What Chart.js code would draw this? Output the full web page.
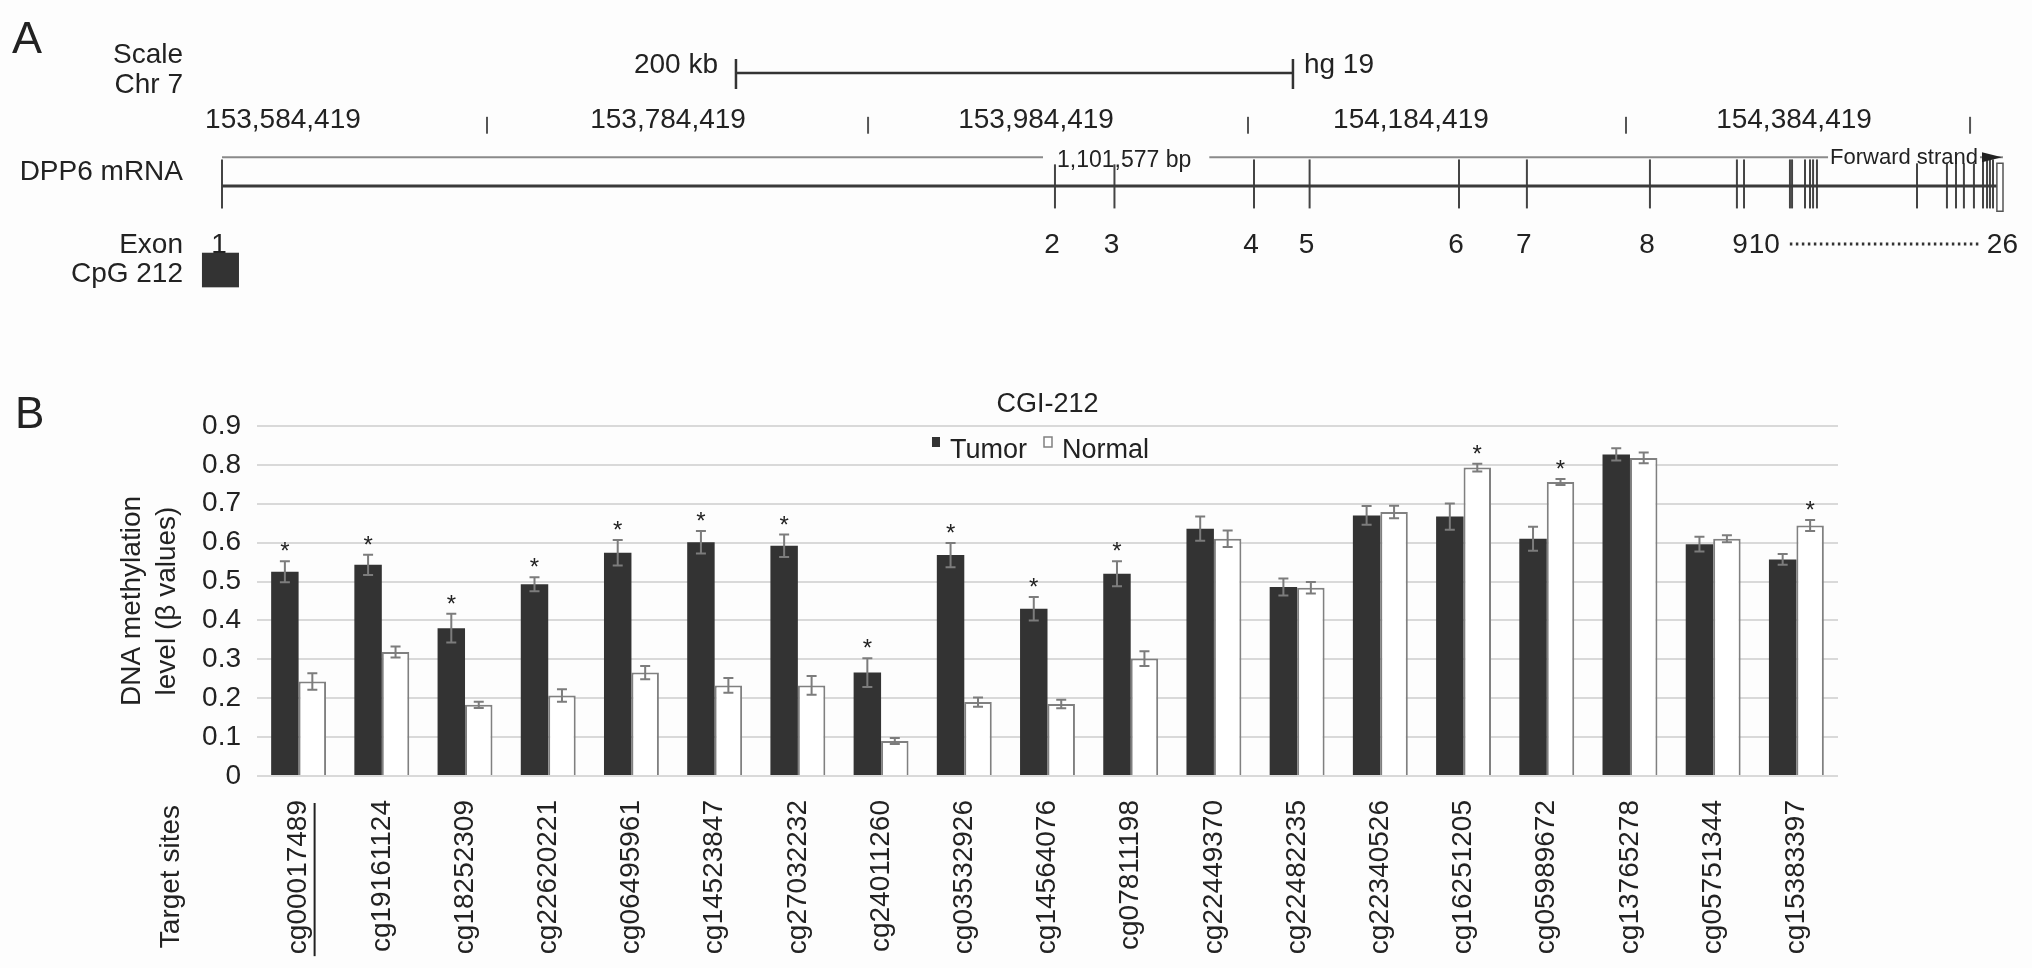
<!DOCTYPE html>
<html>
<head>
<meta charset="utf-8">
<title>DPP6 CGI-212 methylation</title>
<script src="https://cdn.jsdelivr.net/npm/chart.js@4.4.1/dist/chart.umd.min.js"></script>
<style>
  html, body { margin: 0; padding: 0; background: #fdfdfd; }
  #page { position: relative; width: 2032px; height: 968px; overflow: hidden; }
  #trackCanvas { position: absolute; left: 0; top: 0; }
  #barCanvas { position: absolute; left: 0; top: 340px; }
</style>
</head>
<body>
<div id="page">
  <canvas id="trackCanvas" width="2032" height="340"></canvas>
  <canvas id="barCanvas" width="2032" height="628"></canvas>
</div>
<script>
// Panel A - DPP6 gene model, positions in kb from the start of exon 1
var geneLengthBp = 1101577;
var exonNumbers = ['1', '2', '3', '4', '5', '6', '7', '8', '9', '10', '11', '12', '13',
    '14', '15', '16', '17', '18', '19', '20', '21', '22', '23', '24', '25', '26'];
var exonStartKb = [0, 515.2, 552.0, 638.3, 672.7, 765.1, 807.1, 883.2, 937.0, 941.4,
    969.8, 971.1, 979.1, 982.2, 984.1, 986.5, 1048.4, 1066.9, 1072.5, 1077.4,
    1083.6, 1089.2, 1091.7, 1093.5, 1095.4, 1097.8];
var lastExonEndKb = 1101.577;
var cpgIslandKb = [-12.4, 10.5];
var rulerLabels = ['153,584,419', '153,784,419', '153,984,419', '154,184,419', '154,384,419'];
var rulerLabelKb = [37.7, 275.9, 503.5, 735.4, 972.3];
var rulerTickKb = [163.9, 399.6, 634.6, 868.4, 1081.2];
var scaleBarKb = [317.9, 662.4];
var lengthLabelKb = 558;

// Panel B - CGI-212 methylation (beta values)
var targetSites = ['cg00017489', 'cg19161124', 'cg18252309', 'cg22620221', 'cg06495961',
    'cg14523847', 'cg27032232', 'cg24011260', 'cg03532926', 'cg14564076', 'cg07811198',
    'cg22449370', 'cg22482235', 'cg22340526', 'cg16251205', 'cg05989672', 'cg13765278',
    'cg05751344', 'cg15383397'];
var tumorValues = [0.525, 0.543, 0.380, 0.493, 0.574, 0.601, 0.592, 0.266, 0.568, 0.430,
    0.520, 0.636, 0.486, 0.670, 0.667, 0.610, 0.827, 0.596, 0.557];
var tumorErrors = [0.027, 0.026, 0.037, 0.018, 0.033, 0.029, 0.029, 0.037, 0.031, 0.030,
    0.032, 0.031, 0.022, 0.024, 0.034, 0.031, 0.016, 0.019, 0.014];
var normalValues = [0.243, 0.319, 0.183, 0.207, 0.266, 0.233, 0.233, 0.090, 0.190, 0.185,
    0.302, 0.610, 0.484, 0.679, 0.793, 0.756, 0.818, 0.610, 0.644];
var normalErrors = [0.021, 0.014, 0.008, 0.016, 0.017, 0.019, 0.024, 0.008, 0.012, 0.011,
    0.019, 0.021, 0.015, 0.016, 0.010, 0.008, 0.014, 0.009, 0.014];
var tumorStars = [1, 1, 1, 1, 1, 1, 1, 1, 1, 1, 1, 0, 0, 0, 0, 0, 0, 0, 0];
var normalStars = [0, 0, 0, 0, 0, 0, 0, 0, 0, 0, 0, 0, 0, 0, 1, 1, 0, 0, 1];
var yTicks = [0, 0.1, 0.2, 0.3, 0.4, 0.5, 0.6, 0.7, 0.8, 0.9];

var FONT = '"Liberation Sans", Arial, Helvetica, sans-serif';
var INK = '#222222';
var PAPER = '#fdfdfd';

// draw text whose cap/digit height is centred on yMid
function label(ctx, str, x, yMid, size, align) {
    ctx.font = size + 'px ' + FONT;
    ctx.textAlign = align || 'left';
    ctx.textBaseline = 'alphabetic';
    ctx.fillStyle = INK;
    ctx.fillText(str, x, yMid + size * 0.36);
    return ctx.measureText(str).width;
}

// ---------------- Panel A ----------------
var geneKb = geneLengthBp / 1000;
var rowY = { scaleBar: 55, ruler: 117, strand: 155, gene: 189, exonNum: 243, cpgTop: 268, cpgBottom: 309 };
var labelRight = 183;

var trackDecor = {
    id: 'trackDecor',
    afterDraw: function (chart) {
        var ctx = chart.ctx;
        var xs = chart.scales.x, ys = chart.scales.y;
        var px = function (kb) { return xs.getPixelForValue(kb); };
        var py = function (v) { return ys.getPixelForValue(v); };
        ctx.save();

        label(ctx, 'A', 12, 37, 45, 'left');
        label(ctx, 'Scale', labelRight, 53, 28, 'right');
        label(ctx, 'Chr 7', labelRight, 83, 28, 'right');
        label(ctx, 'DPP6 mRNA', labelRight, 170, 28, 'right');
        label(ctx, 'Exon', labelRight, rowY.exonNum, 28, 'right');
        label(ctx, 'CpG 212', labelRight, 272, 28, 'right');

        // scale bar
        var s0 = px(scaleBarKb[0]), s1 = px(scaleBarKb[1]), sy = py(rowY.scaleBar);
        ctx.strokeStyle = '#333';
        ctx.lineWidth = 2.5;
        ctx.beginPath();
        ctx.moveTo(s0, sy); ctx.lineTo(s1, sy);
        ctx.moveTo(s0, sy - 14); ctx.lineTo(s0, sy + 16);
        ctx.moveTo(s1, sy - 14); ctx.lineTo(s1, sy + 16);
        ctx.stroke();
        label(ctx, '200 kb', s0 - 18, 63, 28, 'right');
        label(ctx, 'hg 19', s1 + 11, 63, 28, 'left');

        // chromosome ruler
        rulerLabels.forEach(function (t, i) {
            label(ctx, t, px(rulerLabelKb[i]), rowY.ruler + 1, 28, 'center');
        });
        ctx.strokeStyle = '#555';
        ctx.lineWidth = 2;
        rulerTickKb.forEach(function (kb) {
            ctx.beginPath();
            ctx.moveTo(px(kb), py(rowY.ruler - 10));
            ctx.lineTo(px(kb), py(rowY.ruler + 10));
            ctx.stroke();
        });

        // length label and strand label sitting on the thin line
        var ly = py(rowY.strand);
        ctx.font = '23px ' + FONT;
        var lenText = geneLengthBp.toLocaleString('en-US') + ' bp';
        var lw = ctx.measureText(lenText).width;
        var lx = px(lengthLabelKb);
        ctx.fillStyle = PAPER;
        ctx.fillRect(lx - lw / 2 - 14, ly - 10, lw + 32, 17);
        label(ctx, lenText, lx, ly + 1, 23, 'center');

        var tip = px(geneKb) - 1;
        ctx.font = '22px ' + FONT;
        var fw = ctx.measureText('Forward strand').width;
        ctx.fillStyle = PAPER;
        ctx.fillRect(tip - 24 - fw - 2, ly - 10, fw + 4, 16);
        label(ctx, 'Forward strand', tip - 24, ly - 1, 22, 'right');
        ctx.fillStyle = '#222';
        ctx.beginPath();
        ctx.moveTo(tip, ly);
        ctx.lineTo(tip - 20, ly - 5);
        ctx.lineTo(tip - 20, ly + 5);
        ctx.closePath();
        ctx.fill();

        // last exon drawn as a box
        var b0 = px(exonStartKb[exonStartKb.length - 1]), b1 = px(lastExonEndKb);
        ctx.fillStyle = '#ffffff';
        ctx.strokeStyle = '#555';
        ctx.lineWidth = 1.5;
        ctx.fillRect(b0, py(rowY.gene - 27), b1 - b0, 48);
        ctx.strokeRect(b0, py(rowY.gene - 27), b1 - b0, 48);

        // exon numbers 1-10 ... 26
        for (var i = 0; i < 8; i++) {
            label(ctx, exonNumbers[i], px(exonStartKb[i]) - 3, rowY.exonNum, 28, 'center');
        }
        ctx.font = '28px ' + FONT;
        var w9 = ctx.measureText(exonNumbers[8]).width;
        var x9 = px(exonStartKb[8]) + 3;
        label(ctx, exonNumbers[8], x9, rowY.exonNum, 28, 'center');
        var w10 = label(ctx, exonNumbers[9], x9 + w9 / 2 + 1, rowY.exonNum, 28, 'left');
        var endNum = px(lastExonEndKb) + 15;
        var w26 = label(ctx, exonNumbers[25], endNum, rowY.exonNum, 28, 'right');
        ctx.strokeStyle = '#333';
        ctx.lineWidth = 3;
        ctx.setLineDash([2.5, 3.5]);
        ctx.beginPath();
        ctx.moveTo(x9 + w9 / 2 + w10 + 11, rowY.exonNum + 1);
        ctx.lineTo(endNum - w26 - 7, rowY.exonNum + 1);
        ctx.stroke();
        ctx.setLineDash([]);

        // CpG island
        ctx.fillStyle = '#333';
        ctx.fillRect(px(cpgIslandKb[0]), py(rowY.cpgTop), px(cpgIslandKb[1]) - px(cpgIslandKb[0]),
            py(rowY.cpgBottom) - py(rowY.cpgTop));
        ctx.restore();
    }
};

new Chart(document.getElementById('trackCanvas'), {
    type: 'scatter',
    data: {
        datasets: [{
            type: 'line',
            data: [{ x: 0, y: rowY.strand }, { x: geneKb, y: rowY.strand }],
            borderColor: '#8a8a8a',
            borderWidth: 2,
            pointRadius: 0,
            clip: false
        }, {
            type: 'line',
            data: [{ x: 0, y: rowY.gene }, { x: exonStartKb[exonStartKb.length - 1], y: rowY.gene }],
            borderColor: '#3a3a3a',
            borderWidth: 3,
            pointRadius: 0,
            clip: false
        }, {
            data: exonStartKb.slice(0, exonStartKb.length - 1).map(function (kb) {
                return { x: kb, y: rowY.gene - 2.5 };
            }),
            pointStyle: 'line',
            pointRotation: 90,
            pointRadius: 24.5,
            pointBorderWidth: 2,
            pointBorderColor: '#444',
            pointBackgroundColor: '#444',
            clip: false
        }]
    },
    options: {
        responsive: false,
        animation: false,
        events: [],
        layout: { padding: { left: 222, right: 29, top: 0, bottom: 0 } },
        scales: {
            x: { type: 'linear', min: 0, max: geneKb, display: false },
            y: { type: 'linear', min: 0, max: 340, reverse: true, display: false }
        },
        plugins: { legend: { display: false }, tooltip: { enabled: false } }
    },
    plugins: [trackDecor]
});

// ---------------- Panel B ----------------
var errorBars = {
    id: 'errorBars',
    afterDatasetsDraw: function (chart) {
        var ctx = chart.ctx, y = chart.scales.y;
        ctx.save();
        chart.data.datasets.forEach(function (ds, d) {
            var meta = chart.getDatasetMeta(d);
            meta.data.forEach(function (bar, i) {
                var v = ds.data[i], e = ds.errors[i];
                var top = y.getPixelForValue(v + e), bot = y.getPixelForValue(v - e);
                ctx.strokeStyle = '#7c7c7c';
                ctx.lineWidth = 2;
                ctx.beginPath();
                ctx.moveTo(bar.x, top); ctx.lineTo(bar.x, bot);
                ctx.moveTo(bar.x - 5, top); ctx.lineTo(bar.x + 5, top);
                ctx.moveTo(bar.x - 5, bot); ctx.lineTo(bar.x + 5, bot);
                ctx.stroke();
                if (ds.stars[i]) {
                    ctx.fillStyle = INK;
                    ctx.font = '24px ' + FONT;
                    ctx.textAlign = 'center';
                    ctx.textBaseline = 'alphabetic';
                    ctx.fillText('*', bar.x, top - 2);
                }
            });
        });
        ctx.restore();
    }
};

var panelBDecor = {
    id: 'panelBDecor',
    afterDraw: function (chart) {
        var ctx = chart.ctx, area = chart.chartArea, xs = chart.scales.x;
        ctx.save();
        label(ctx, 'B', 15, 72, 44, 'left');

        // legend inside the plot, between the 0.9 and 0.8 grid lines
        ctx.font = '27px ' + FONT;
        var items = chart.data.datasets.map(function (ds) {
            return { text: ds.label, fill: ds.backgroundColor, stroke: ds.borderColor, w: ctx.measureText(ds.label).width };
        });
        var total = 0;
        items.forEach(function (it, k) { total += 8 + 10 + it.w + (k < items.length - 1 ? 17 : 0); });
        var lx = (area.left + area.right) / 2 - 7 - total / 2;
        var ly = area.top + 21;
        items.forEach(function (it) {
            ctx.fillStyle = it.fill;
            ctx.fillRect(lx, ly - 10, 8, 10);
            if (it.stroke) {
                ctx.strokeStyle = it.stroke;
                ctx.lineWidth = 1.5;
                ctx.strokeRect(lx, ly - 10, 8, 10);
            }
            label(ctx, it.text, lx + 18, ly + 1, 27, 'left');
            lx += 8 + 10 + it.w + 17;
        });

        // axis caption and underline of the first site
        var capTop = area.bottom + 29;
        ctx.translate(171, capTop);
        ctx.rotate(-Math.PI / 2);
        ctx.font = '28px ' + FONT;
        ctx.fillStyle = INK;
        ctx.textAlign = 'right';
        ctx.textBaseline = 'middle';
        ctx.fillText('Target sites', 0, 0);
        ctx.setTransform(1, 0, 0, 1, 0, 0);
        var ux = xs.getPixelForTick(0) + 16;
        var uw = ctx.measureText(targetSites[0]).width;
        ctx.strokeStyle = INK;
        ctx.lineWidth = 2;
        ctx.beginPath();
        ctx.moveTo(ux, area.bottom + 27);
        ctx.lineTo(ux, area.bottom + 24 + uw + 2);
        ctx.stroke();
        ctx.restore();
    }
};

new Chart(document.getElementById('barCanvas'), {
    type: 'bar',
    data: {
        labels: targetSites,
        datasets: [{
            label: 'Tumor',
            data: tumorValues,
            errors: tumorErrors,
            stars: tumorStars,
            backgroundColor: '#333333',
            borderWidth: 0,
            categoryPercentage: 0.66,
            barPercentage: 1.0
        }, {
            label: 'Normal',
            data: normalValues,
            errors: normalErrors,
            stars: normalStars,
            backgroundColor: '#ffffff',
            borderColor: '#808080',
            borderWidth: 2,
            categoryPercentage: 0.66,
            barPercentage: 1.0
        }]
    },
    options: {
        responsive: false,
        animation: false,
        events: [],
        layout: { padding: { left: 100, right: 194, top: 0, bottom: 0 } },
        scales: {
            x: {
                grid: { display: false, drawTicks: false },
                border: { display: false },
                ticks: {
                    autoSkip: false,
                    minRotation: 90,
                    maxRotation: 90,
                    padding: 24,
                    color: INK,
                    font: { family: FONT, size: 28 }
                },
                afterFit: function (scale) { scale.height = 192; }
            },
            y: {
                min: 0,
                max: 0.9,
                border: { display: false },
                grid: { color: '#d9d9d9', lineWidth: 2, drawTicks: false },
                afterBuildTicks: function (scale) {
                    scale.ticks = yTicks.map(function (v) { return { value: v }; });
                },
                ticks: {
                    padding: 16,
                    color: INK,
                    font: { family: FONT, size: 28 },
                    callback: function (value) { return value === 0 ? '0' : value.toFixed(1); }
                },
                title: {
                    display: true,
                    text: ['DNA methylation', 'level (\u03b2 values)'],
                    color: INK,
                    font: { family: FONT, size: 28, lineHeight: 1.25 },
                    padding: { top: 14.5, bottom: 0 }
                },
                afterFit: function (scale) { scale.width = 157; }
            }
        },
        plugins: {
            legend: { display: false },
            tooltip: { enabled: false },
            title: {
                display: true,
                text: 'CGI-212',
                fullSize: false,
                color: INK,
                font: { family: FONT, size: 27, weight: 'normal' },
                padding: { top: 48.8, bottom: 4.8 }
            }
        }
    },
    plugins: [errorBars, panelBDecor]
});
</script>
</body>
</html>
